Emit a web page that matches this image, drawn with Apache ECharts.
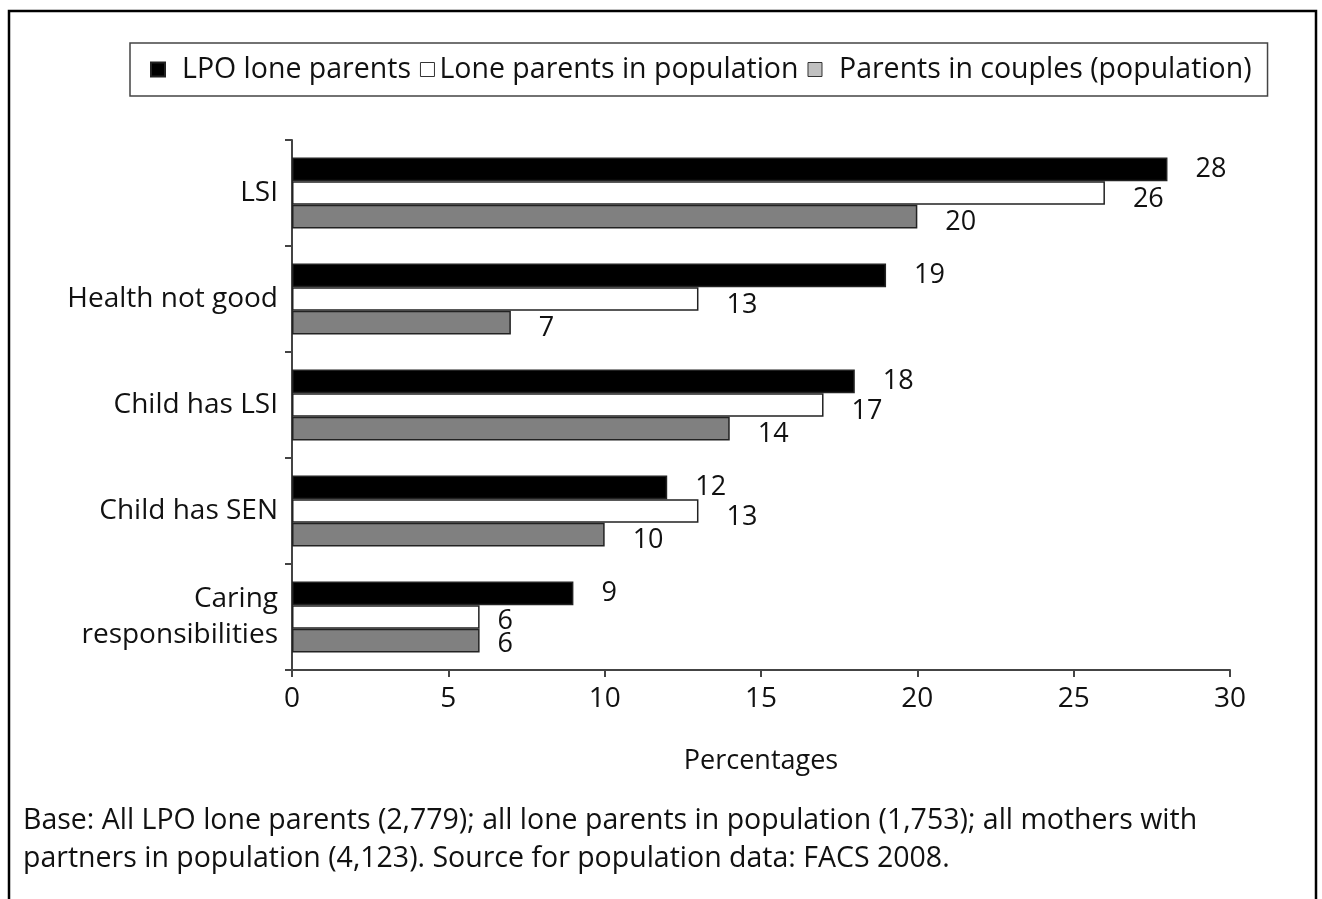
<!DOCTYPE html>
<html>
<head>
<meta charset="utf-8">
<title>Lone parents: health and caring</title>
<script src="https://cdn.jsdelivr.net/npm/echarts@6/dist/echarts.min.js"></script>
<style>
  html, body { margin: 0; padding: 0; background: #fff; }
  #chart { width: 1322px; height: 899px; }
</style>
</head>
<body>
<div id="chart"></div>
<script>
// Categories, top to bottom
const categories = ['LSI', 'Health not good', 'Child has LSI', 'Child has SEN', 'Caring\nresponsibilities'];

// Percentages per group
const lpoLoneParents = [28, 19, 18, 12, 9];
const loneParentsPopulation = [26, 13, 17, 13, 6];
const parentsInCouples = [20, 7, 14, 10, 6];

const seriesNames = ['LPO lone parents', 'Lone parents in population', 'Parents in couples (population)'];

const xTicks = [0, 5, 10, 15, 20, 25, 30];

const footnote = 'Base: All LPO lone parents (2,779); all lone parents in population (1,753); all mothers with\npartners in population (4,123). Source for population data: FACS 2008.';

const FONT = '"Open Sans"';

function barSeries(name, values, fill, labelOffset) {
  return {
    name: name,
    type: 'bar',
    data: values.map(function (v, i) {
      const item = { value: v };
      // the last group's labels sit closer to the bar ends
      if (i === values.length - 1 && labelOffset[1] > 0) {
        item.label = { distance: 18, offset: [0, labelOffset[1] - 2] };
      }
      return item;
    }),
    barGap: '0%',
    barCategoryGap: '33%',
    itemStyle: { color: fill, borderColor: '#222', borderWidth: 1.5 },
    label: {
      show: true,
      position: 'right',
      distance: 28,
      offset: labelOffset,
      color: '#111',
      fontFamily: FONT,
      fontSize: 27
    },
    emphasis: { disabled: true }
  };
}

const chart = echarts.init(document.getElementById('chart'), null, { renderer: 'canvas' });

chart.setOption({
  animation: false,
  backgroundColor: '#fff',
  title: {
    text: footnote,
    left: 18,
    top: 797,
    textStyle: { fontFamily: FONT, fontSize: 28.5, fontWeight: 'normal', color: '#111', lineHeight: 38 }
  },
  legend: {
    left: 130,
    top: 43,
    padding: [12, 16, 12, 20],
    borderColor: '#444',
    borderWidth: 1.5,
    itemWidth: 14,
    itemHeight: 14,
    itemGap: 9,
    icon: 'rect',
    data: [
      { name: seriesNames[0], textStyle: { padding: [0, 0, 0, 12] } },
      { name: seriesNames[1], itemStyle: { borderColor: '#333', borderWidth: 1 } },
      { name: seriesNames[2], itemStyle: { color: '#c0c0c0', borderColor: '#333', borderWidth: 1 }, textStyle: { padding: [0, 0, 0, 12] } }
    ],
    textStyle: { fontFamily: FONT, fontSize: 28.5, color: '#111' }
  },
  grid: { left: 292, right: 92, top: 140, bottom: 229, containLabel: false },
  xAxis: {
    type: 'value',
    min: xTicks[0],
    max: xTicks[xTicks.length - 1],
    interval: xTicks[1] - xTicks[0],
    name: 'Percentages',
    nameLocation: 'middle',
    nameGap: 78,
    nameTextStyle: { fontFamily: FONT, fontSize: 27, fontWeight: 500, color: '#111' },
    axisLine: { show: true, lineStyle: { color: '#444', width: 2 } },
    axisTick: { show: true, length: 7, lineStyle: { color: '#444', width: 2 } },
    axisLabel: { margin: 15, fontFamily: FONT, fontSize: 28, color: '#111' },
    splitLine: { show: false }
  },
  yAxis: {
    type: 'category',
    data: categories,
    inverse: true,
    axisLine: { show: true, lineStyle: { color: '#444', width: 2 } },
    axisTick: { show: true, length: 7, lineStyle: { color: '#444', width: 2 } },
    axisLabel: { margin: 14, fontFamily: FONT, fontSize: 28, color: '#111', lineHeight: 36, padding: [0, 0, 6, 0] }
  },
  series: [
    barSeries(seriesNames[0], lpoLoneParents, '#000', [0, 0]),
    barSeries(seriesNames[1], loneParentsPopulation, '#fff', [0, 6]),
    barSeries(seriesNames[2], parentsInCouples, '#808080', [0, 6])
  ],
  graphic: [{
    type: 'rect',
    silent: true,
    shape: { x: 9, y: 11, width: 1307, height: 920 },
    style: { fill: null, stroke: '#000', lineWidth: 2.5 }
  }]
});
</script>
</body>
</html>
